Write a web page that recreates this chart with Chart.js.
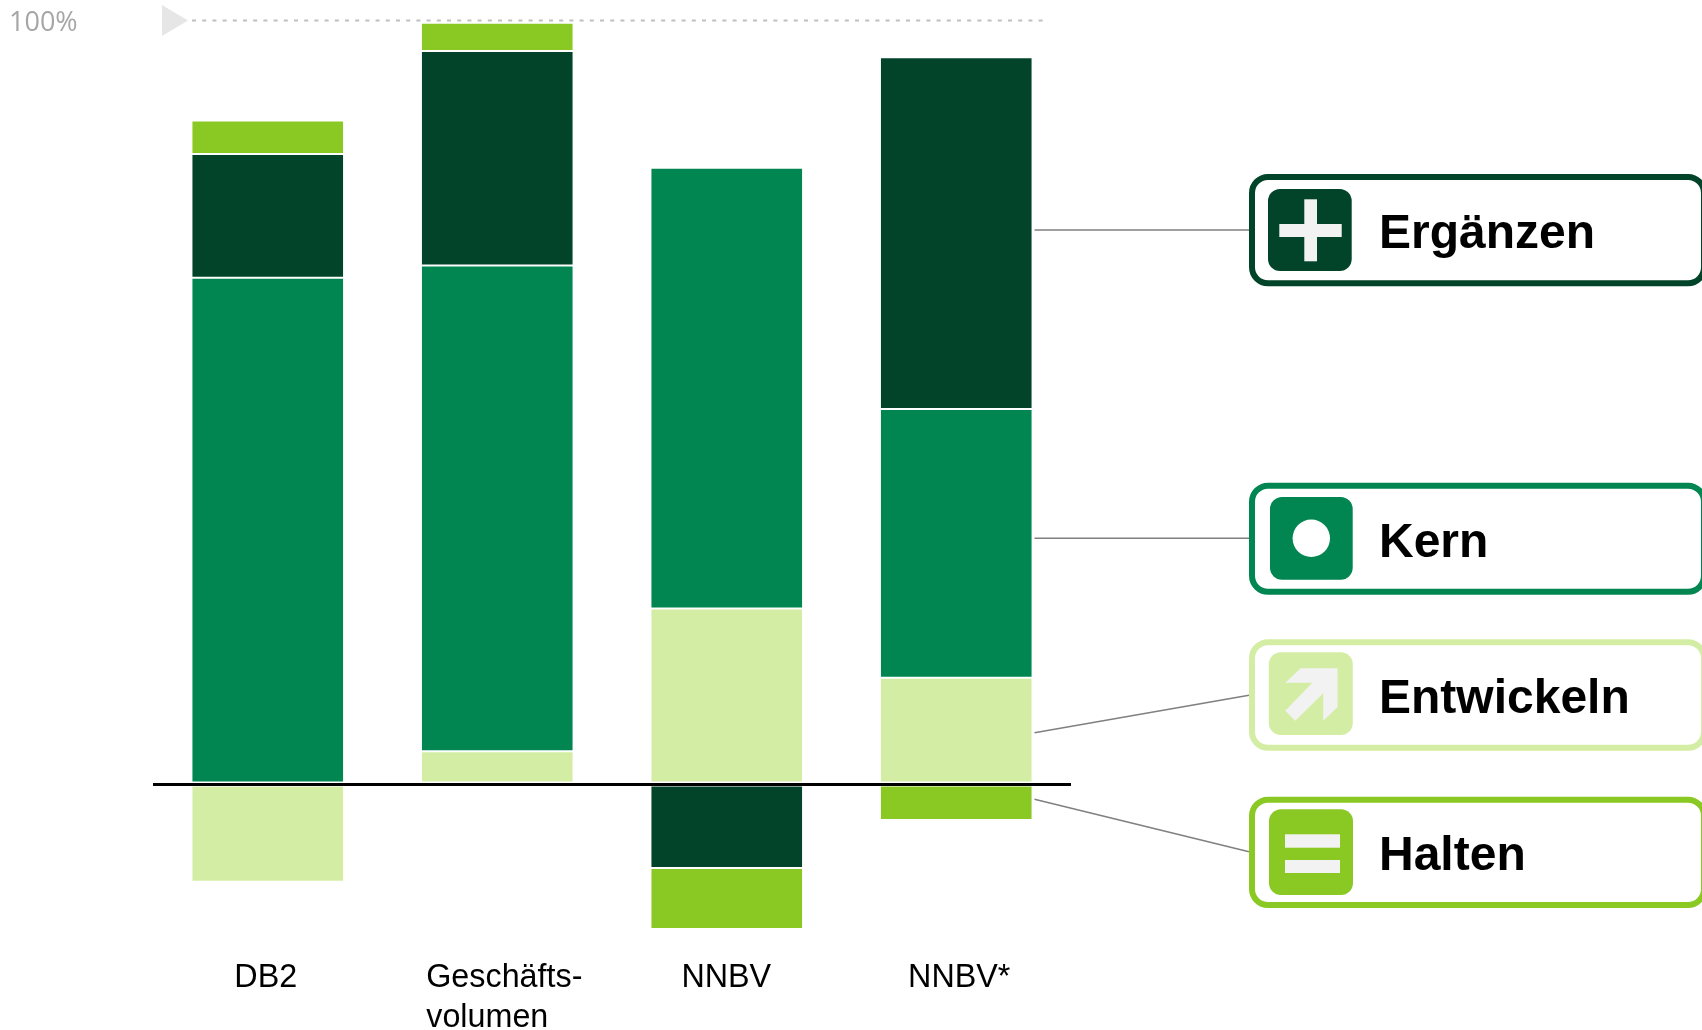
<!DOCTYPE html>
<html><head><meta charset="utf-8">
<style>html,body{margin:0;padding:0;background:#fff;overflow:hidden}canvas{display:block}</style>
<script src="https://cdn.jsdelivr.net/npm/chart.js@4/dist/chart.umd.js"></script>
</head><body><canvas id="c" width="1702" height="1030"></canvas>
<script>
const categories = [["DB2"], ["Geschäfts-", "volumen"], ["NNBV"], ["NNBV*"]];
const entwickeln = [-12.8, 4.3, 23.0, 13.9];
const kern = [66.3, 63.6, 57.7, 35.2];
const ergaenzen = [16.2, 28.1, -11.0, 46.1];
const halten = [4.4, 3.7, -8.0, -4.7];
const colors = {erg:"#024429", kern:"#018651", ent:"#d3eea4", hal:"#8ac923"};
const labelOffsets = [-2, -71, -0.5, 3];
const labelAligns = ["center","left","center","center"];

function rr(ctx,x,y,w,h,r){ctx.beginPath();ctx.roundRect(x,y,w,h,r);}
function callout(ctx,o){
  ctx.strokeStyle=o.color;ctx.lineWidth=6;rr(ctx,1252,o.top+3,452,o.bottom-o.top-6,16);ctx.stroke();
  ctx.fillStyle=o.color;rr(ctx,o.ix,o.iy,o.iw,o.ih,12);ctx.fill();
  ctx.fillStyle="#f2f2f2";o.glyph(ctx);
  ctx.fillStyle="#000";ctx.font="bold 48px 'Liberation Sans'";ctx.textAlign="left";ctx.textBaseline="alphabetic";
  ctx.fillText(o.text,1379,o.base);
}
const decor={id:"decor",
 afterDraw(chart){
  const ctx=chart.ctx,x=chart.scales.x,y=chart.scales.y;ctx.save();
  ctx.fillStyle="#000";ctx.font="32.3px 'Liberation Sans'";ctx.textBaseline="alphabetic";
  categories.forEach((lines,i)=>{ctx.textAlign=labelAligns[i];
    lines.forEach((t,j)=>ctx.fillText(t,x.getPixelForValue(i)+labelOffsets[i],987+j*40));});
  const top=y.getPixelForValue(100);
  ctx.fillStyle="#a6a6a6";ctx.font="27px 'Open Sans'";ctx.textAlign="left";ctx.fillText("100%",9,top+10);
  ctx.strokeStyle="#bfbfbf";ctx.lineWidth=2;ctx.setLineDash([4,6.2]);ctx.beginPath();ctx.moveTo(192,top);ctx.lineTo(1045,top);ctx.stroke();ctx.setLineDash([]);
  ctx.fillStyle="#e6e6e6";ctx.beginPath();ctx.moveTo(162,5);ctx.lineTo(188,20.5);ctx.lineTo(162,36);ctx.closePath();ctx.fill();
  ctx.strokeStyle="#808080";ctx.lineWidth=1.6;
  [[1034.5,230,1250,230],[1034.5,538.3,1250,538.3],[1034.5,732.7,1249,695.3],[1034.5,799.3,1249,851.7]].forEach(l=>{ctx.beginPath();ctx.moveTo(l[0],l[1]);ctx.lineTo(l[2],l[3]);ctx.stroke();});
  callout(ctx,{color:colors.erg,top:174,bottom:286.3,ix:1268,iy:189,iw:83.7,ih:82,text:"Ergänzen",base:247.7,
    glyph:c=>{c.fillRect(1279.3,224,62.4,13);c.fillRect(1304.3,199.3,12.7,62);}});
  callout(ctx,{color:colors.kern,top:482.7,bottom:594.7,ix:1270,iy:497,iw:82.7,ih:82.7,text:"Kern",base:556.7,
    glyph:c=>{c.fillStyle="#fff";c.beginPath();c.arc(1311.3,538.3,18.7,0,Math.PI*2);c.fill();}});
  callout(ctx,{color:colors.ent,top:639.3,bottom:750.7,ix:1268.8,iy:652.3,iw:84,ih:82.7,text:"Entwickeln",base:712.7,
    glyph:c=>{c.beginPath();[[1285.3,682.7],[1300.6,668.3],[1337.5,668.3],[1337.5,707.3],[1323.2,720.7],[1323.2,693.3],[1295.3,720.7],[1285.3,710.7],[1312.3,682.7]].forEach((p,i)=>i?c.lineTo(p[0],p[1]):c.moveTo(p[0],p[1]));c.closePath();c.fill();}});
  callout(ctx,{color:colors.hal,top:796.7,bottom:908,ix:1269,iy:809.3,iw:84,ih:85.7,text:"Halten",base:870,
    glyph:c=>{c.fillRect(1285,834.3,55,13.4);c.fillRect(1285,860,55,13);}});
  ctx.restore();
 }};
const ds=(label,data,color)=>({label,data,backgroundColor:color,borderColor:"#fff",borderWidth:{top:1,bottom:1,left:0,right:0},borderSkipped:false,stack:"s",barPercentage:151/229.5,categoryPercentage:1});
new Chart(document.getElementById("c"),{
 type:"bar",
 data:{labels:categories,datasets:[ds("Entwickeln",entwickeln,colors.ent),ds("Kern",kern,colors.kern),ds("Ergänzen",ergaenzen,colors.erg),ds("Halten",halten,colors.hal)]},
 plugins:[decor],
 options:{responsive:false,animation:false,devicePixelRatio:1,
  layout:{padding:{left:153,right:631,top:20.5,bottom:93.3}},
  plugins:{legend:{display:false},tooltip:{enabled:false},title:{display:false}},
  scales:{
   x:{display:false,stacked:true},
   y:{display:true,stacked:true,min:-20,max:100,border:{display:false},
      ticks:{display:false,stepSize:20},
      grid:{z:1,drawTicks:false,lineWidth:3,color:c=>c.tick&&c.tick.value===0?"#000":"rgba(0,0,0,0)"}}
  }}
});
</script></body></html>
